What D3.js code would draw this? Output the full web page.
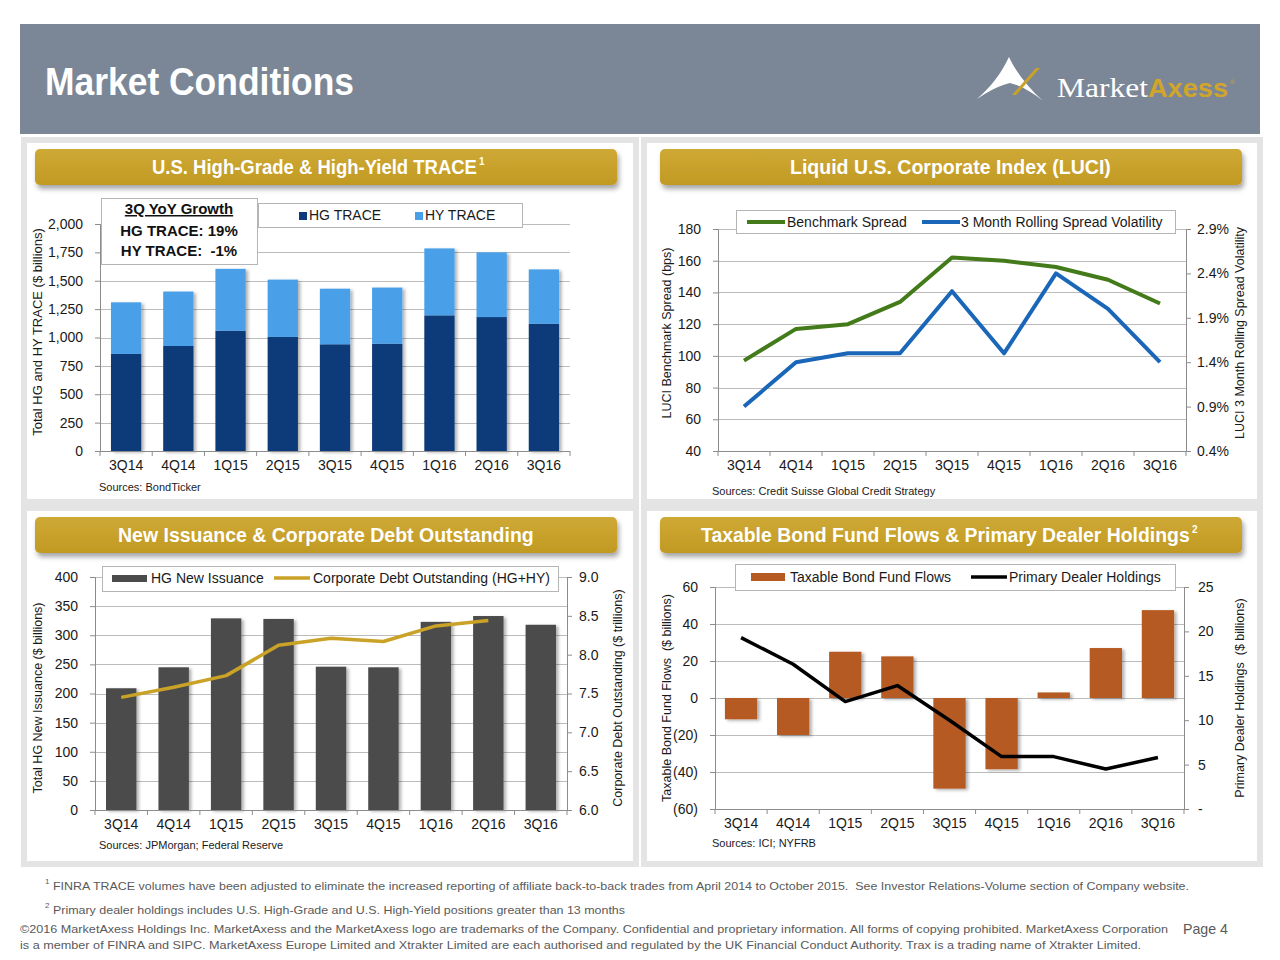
<!DOCTYPE html>
<html>
<head>
<meta charset="utf-8">
<script src="https://cdn.jsdelivr.net/npm/d3@7"></script>
<style>
  body { margin: 0; background: #fff; }
  svg { display: block; font-family: "Liberation Sans", Arial, sans-serif; }
  .tick text { font-size: 14px; fill: #1a1a1a; }
</style>
</head>
<body>
<svg id="page" width="1280" height="960"></svg>
<script>
// --> DATA
var quarters = ["3Q14", "4Q14", "1Q15", "2Q15", "3Q15", "4Q15", "1Q16", "2Q16", "3Q16"];

// panel 1: TRACE volumes ($ billions)
var hgTrace = [855, 925, 1060, 1005, 940, 945, 1195, 1180, 1120];
var hyTrace = [455, 480, 545, 505, 490, 495, 590, 570, 480];
var traceTicks = [0, 250, 500, 750, 1000, 1250, 1500, 1750, 2000];

// panel 2: LUCI
var benchmarkSpread = [97, 117, 120, 134, 162, 160, 156, 148, 133];
var spreadVolatility = [0.9, 1.4, 1.5, 1.5, 2.2, 1.5, 2.4, 2.0, 1.4];
var spreadTicks = [40, 60, 80, 100, 120, 140, 160, 180];
var volTicks = [0.4, 0.9, 1.4, 1.9, 2.4, 2.9];

// panel 3: issuance and debt outstanding
var hgIssuance = [209, 245, 329, 328, 246, 245, 323, 333, 318];
var debtOutstanding = [7.45, 7.58, 7.73, 8.12, 8.21, 8.17, 8.37, 8.44];
var issuanceTicks = [0, 50, 100, 150, 200, 250, 300, 350, 400];
var debtTicks = [6.0, 6.5, 7.0, 7.5, 8.0, 8.5, 9.0];

// panel 4: fund flows and dealer holdings
var fundFlows = [-11.5, -20, 25, 22.5, -49, -38.5, 3, 27, 47.5];
var dealerHoldings = [19.3, 16.3, 12.1, 13.9, 10.0, 5.9, 5.9, 4.5, 5.8];
var flowTicks = [-60, -40, -20, 0, 20, 40, 60];
var holdingTicks = [0, 5, 10, 15, 20, 25];

var svg = d3.select("#page");

// shadows
var defs = svg.append("defs");
defs.append("filter").attr("id", "barShadow").attr("x", "-20%").attr("y", "-20%").attr("width", "150%").attr("height", "150%")
    .append("feDropShadow").attr("dx", 2.5).attr("dy", 1.5).attr("stdDeviation", 1.5)
    .attr("flood-color", "#000").attr("flood-opacity", 0.3);
defs.append("filter").attr("id", "headShadow").attr("x", "-5%").attr("y", "-30%").attr("width", "110%").attr("height", "170%")
    .append("feDropShadow").attr("dx", 2).attr("dy", 4).attr("stdDeviation", 2.5)
    .attr("flood-color", "#000").attr("flood-opacity", 0.35);
var goldGrad = defs.append("linearGradient").attr("id", "gold").attr("x1", 0).attr("y1", 0).attr("x2", 0).attr("y2", 1);
goldGrad.append("stop").attr("offset", "0%").attr("stop-color", "#cfa935");
goldGrad.append("stop").attr("offset", "100%").attr("stop-color", "#c09a22");

// squeeze a text horizontally to a target width (the slide font is narrow)
function squeeze(g, text, width) {
    var natural = text.node().getComputedTextLength();
    text.attr("transform", "scale(" + (width / natural) + ",1)");
}

// --> PAGE HEADER
svg.append("rect").attr("x", 20).attr("y", 24).attr("width", 1240).attr("height", 110).attr("fill", "#7b8797");
svg.append("text").attr("x", 45).attr("y", 95)
    .attr("font-size", 39).attr("font-weight", "bold").attr("fill", "#fff")
    .attr("textLength", 309).attr("lengthAdjust", "spacingAndGlyphs")
    .text("Market Conditions");

// logo
var logo = svg.append("g");
logo.append("path")
    .attr("d", "M977,99 C992,86 1002,72 1009,57 C1016,72 1027,86 1043,101 C1033,93 1022,86 1010,83 C998,86 987,92 977,99 Z")
    .attr("fill", "#fff");
logo.append("path")
    .attr("d", "M1012,95 L1036,68 L1040,68 L1016,95 Z")
    .attr("fill", "#c9a227");
logo.append("text").attr("x", 1057).attr("y", 97)
    .attr("font-family", "'Liberation Serif', 'DejaVu Serif', serif").attr("font-size", 27).attr("fill", "#fff")
    .attr("textLength", 91).attr("lengthAdjust", "spacingAndGlyphs")
    .text("Market");
logo.append("text").attr("x", 1148).attr("y", 97)
    .attr("font-size", 26).attr("font-weight", "bold").attr("fill", "#d0a52a")
    .attr("textLength", 80).attr("lengthAdjust", "spacingAndGlyphs")
    .text("Axess");
logo.append("text").attr("x", 1230).attr("y", 84).attr("font-size", 6).attr("fill", "#d0a52a").text("®");

// --> PANEL FRAMES
// x, y, w, h: frame; hx, hw: gold header bar; tx, tw: title start and width
function panel(x, y, w, h, hx, hw, title, tx, tw, sup) {
    svg.append("rect").attr("x", x).attr("y", y).attr("width", w).attr("height", h)
        .attr("fill", "#fff").attr("stroke", "#e4e4e4").attr("stroke-width", 6);
    svg.append("rect").attr("x", hx).attr("y", y + 9).attr("width", hw).attr("height", 36).attr("rx", 5)
        .attr("fill", "url(#gold)").attr("filter", "url(#headShadow)");
    var g = svg.append("g").attr("transform", "translate(" + tx + "," + (y + 34) + ")");
    var t = g.append("text")
        .attr("font-size", 19.5).attr("font-weight", "bold").attr("fill", "#fff")
        .text(title);
    squeeze(g, t, tw);
    if (sup) {
        svg.append("text").attr("x", tx + tw + 2).attr("y", y + 25)
            .attr("font-size", 10).attr("font-weight", "bold").attr("fill", "#fff").text(sup);
    }
}
panel(24, 140, 612, 362, 35, 582, "U.S. High-Grade & High-Yield TRACE", 152, 325, "1");
panel(644, 140, 616, 362, 660, 582, "Liquid U.S. Corporate Index (LUCI)", 790, 321, null);
panel(24, 508, 612, 356, 35, 582, "New Issuance & Corporate Debt Outstanding", 118, 416, null);
panel(644, 508, 616, 356, 660, 582, "Taxable Bond Fund Flows & Primary Dealer Holdings", 701, 489, "2");

// --> SHARED AXIS HELPERS
function styleAxis(g) {
    g.selectAll(".domain").attr("stroke", "#8c8c8c");
    g.selectAll(".tick line").attr("stroke", "#8c8c8c");
    g.selectAll(".tick text").attr("font-family", "'Liberation Sans', Arial, sans-serif");
}

function grid(x0, x1, y, ticks) {
    svg.append("g").selectAll("line").data(ticks).enter().append("line")
        .attr("x1", x0).attr("x2", x1)
        .attr("y1", function(d) { return Math.round(y(d)) + 0.5; })
        .attr("y2", function(d) { return Math.round(y(d)) + 0.5; })
        .attr("stroke", "#bcbcbc").attr("stroke-width", 1);
}

function categoryAxis(x, y0) {
    var g = svg.append("g").attr("transform", "translate(0," + y0 + ")")
        .call(d3.axisBottom(x).tickSize(0).tickPadding(9));
    g.select(".domain").remove();
    g.selectAll(".tick text").attr("font-family", "'Liberation Sans', Arial, sans-serif");
    // tick marks between categories
    var r = x.range();
    var edges = d3.range(quarters.length + 1).map(function(i) { return r[0] + i * x.step(); });
    svg.append("line").attr("x1", r[0]).attr("x2", r[1]).attr("y1", y0 + 0.5).attr("y2", y0 + 0.5).attr("stroke", "#8c8c8c");
    svg.append("g").selectAll("line").data(edges).enter().append("line")
        .attr("x1", function(d) { return d; }).attr("x2", function(d) { return d; })
        .attr("y1", y0).attr("y2", y0 + 5).attr("stroke", "#8c8c8c");
}

function axisTitle(x, y, label, size) {
    svg.append("text").attr("transform", "translate(" + x + "," + y + ") rotate(-90)")
        .attr("text-anchor", "middle").attr("font-size", size || 12).attr("fill", "#1a1a1a")
        .attr("xml:space", "preserve")
        .text(label);
}

function sources(x, y, label) {
    svg.append("text").attr("x", x).attr("y", y).attr("font-size", 11).attr("fill", "#1a1a1a").text(label);
}

function legendBox(x, y, w, h) {
    svg.append("rect").attr("x", x + 0.5).attr("y", y + 0.5).attr("width", w).attr("height", h)
        .attr("fill", "#fff").attr("stroke", "#b5b5b5");
}

function legendText(x, y, label) {
    svg.append("text").attr("x", x).attr("y", y).attr("font-size", 14).attr("fill", "#1a1a1a").text(label);
}

// --> PANEL 1: stacked TRACE bars
var x1 = d3.scaleBand().domain(quarters).range([100, 570]).paddingInner(0.42).paddingOuter(0.21);
var y1 = d3.scaleLinear().domain([0, 2000]).range([451, 224]);

grid(100, 570, y1, traceTicks.slice(1));

var stack1 = d3.stack().keys(["hg", "hy"])(quarters.map(function(q, i) {
    return { q: q, hg: hgTrace[i], hy: hyTrace[i] };
}));
var traceColors = { hg: "#0b3b7a", hy: "#4aa0e8" };

svg.append("g").attr("filter", "url(#barShadow)")
    .selectAll("g").data(stack1).enter().append("g")
    .attr("fill", function(d) { return traceColors[d.key]; })
    .selectAll("rect").data(function(d) { return d; }).enter().append("rect")
    .attr("x", function(d) { return x1(d.data.q); })
    .attr("width", x1.bandwidth())
    .attr("y", function(d) { return y1(d[1]); })
    .attr("height", function(d) { return y1(d[0]) - y1(d[1]); });

svg.append("g").attr("transform", "translate(100,0)")
    .call(d3.axisLeft(y1).tickValues(traceTicks).tickSize(5).tickPadding(12).tickFormat(d3.format(",")))
    .call(styleAxis);
categoryAxis(x1, 451);
axisTitle(42, 332, "Total HG and HY TRACE ($ billions)", 13);
sources(99, 491, "Sources: BondTicker");

// growth box
legendBox(101, 198, 156, 66);
svg.append("text").attr("x", 179).attr("y", 214).attr("text-anchor", "middle")
    .attr("font-size", 15).attr("font-weight", "bold").attr("text-decoration", "underline").attr("fill", "#111")
    .text("3Q YoY Growth");
svg.append("text").attr("x", 179).attr("y", 236).attr("text-anchor", "middle")
    .attr("font-size", 15).attr("font-weight", "bold").attr("fill", "#111").text("HG TRACE: 19%");
svg.append("text").attr("x", 179).attr("y", 256).attr("text-anchor", "middle")
    .attr("font-size", 15).attr("font-weight", "bold").attr("fill", "#111").attr("xml:space", "preserve")
    .text("HY TRACE:  -1%");

// legend
legendBox(258, 203, 264, 24);
svg.append("rect").attr("x", 299).attr("y", 212).attr("width", 8).attr("height", 8).attr("fill", traceColors.hg);
legendText(309, 220, "HG TRACE");
svg.append("rect").attr("x", 415).attr("y", 212).attr("width", 8).attr("height", 8).attr("fill", traceColors.hy);
legendText(425, 220, "HY TRACE");

// --> PANEL 2: LUCI lines
var x2 = d3.scaleBand().domain(quarters).range([718, 1186]);
var y2 = d3.scaleLinear().domain([40, 180]).range([451, 229]);
var y2r = d3.scaleLinear().domain([0.4, 2.9]).range([451, 229]);

grid(718, 1186, y2, spreadTicks.slice(1));

svg.append("path").datum(benchmarkSpread)
    .attr("fill", "none").attr("stroke", "#437a1a").attr("stroke-width", 4).attr("stroke-linejoin", "round")
    .attr("d", d3.line()
        .x(function(d, i) { return x2(quarters[i]) + x2.bandwidth() / 2; })
        .y(function(d) { return y2(d); }));
svg.append("path").datum(spreadVolatility)
    .attr("fill", "none").attr("stroke", "#1a66b8").attr("stroke-width", 4).attr("stroke-linejoin", "round")
    .attr("d", d3.line()
        .x(function(d, i) { return x2(quarters[i]) + x2.bandwidth() / 2; })
        .y(function(d) { return y2r(d); }));

svg.append("g").attr("transform", "translate(718,0)")
    .call(d3.axisLeft(y2).tickValues(spreadTicks).tickSize(5).tickPadding(12))
    .call(styleAxis);
svg.append("g").attr("transform", "translate(1186,0)")
    .call(d3.axisRight(y2r).tickValues(volTicks).tickSize(5).tickPadding(6)
        .tickFormat(function(d) { return d3.format(".1f")(d) + "%"; }))
    .call(styleAxis);
categoryAxis(x2, 451);
axisTitle(671, 333, "LUCI Benchmark Spread (bps)", 12.5);
axisTitle(1244, 333, "LUCI 3 Month Rolling Spread Volatility", 12.5);
sources(712, 495, "Sources: Credit Suisse Global Credit Strategy");

legendBox(736, 210, 439, 23);
svg.append("line").attr("x1", 747).attr("x2", 785).attr("y1", 222).attr("y2", 222).attr("stroke", "#437a1a").attr("stroke-width", 4);
legendText(787, 227, "Benchmark Spread");
svg.append("line").attr("x1", 922).attr("x2", 960).attr("y1", 222).attr("y2", 222).attr("stroke", "#1a66b8").attr("stroke-width", 4);
legendText(961, 227, "3 Month Rolling Spread Volatility");

// --> PANEL 3: new issuance bars + debt outstanding line
var x3 = d3.scaleBand().domain(quarters).range([95, 567]).paddingInner(0.42).paddingOuter(0.21);
var y3 = d3.scaleLinear().domain([0, 400]).range([810, 577]);
var y3r = d3.scaleLinear().domain([6.0, 9.0]).range([810, 577]);

grid(95, 567, y3, issuanceTicks.slice(1));

svg.append("g").attr("filter", "url(#barShadow)")
    .selectAll("rect").data(hgIssuance).enter().append("rect")
    .attr("x", function(d, i) { return x3(quarters[i]); })
    .attr("width", x3.bandwidth())
    .attr("y", function(d) { return y3(d); })
    .attr("height", function(d) { return y3(0) - y3(d); })
    .attr("fill", "#4b4b4b");

svg.append("path").datum(debtOutstanding)
    .attr("fill", "none").attr("stroke", "#c9a227").attr("stroke-width", 3.5).attr("stroke-linejoin", "round")
    .attr("d", d3.line()
        .x(function(d, i) { return x3(quarters[i]) + x3.bandwidth() / 2; })
        .y(function(d) { return y3r(d); }));

svg.append("g").attr("transform", "translate(95,0)")
    .call(d3.axisLeft(y3).tickValues(issuanceTicks).tickSize(5).tickPadding(12))
    .call(styleAxis);
svg.append("g").attr("transform", "translate(567,0)")
    .call(d3.axisRight(y3r).tickValues(debtTicks).tickSize(5).tickPadding(7).tickFormat(d3.format(".1f")))
    .call(styleAxis);
categoryAxis(x3, 810);
axisTitle(42, 698, "Total HG New Issuance ($ billions)", 12.5);
axisTitle(622, 698, "Corporate Debt Outstanding ($ trillions)", 12.5);
sources(99, 849, "Sources: JPMorgan; Federal Reserve");

legendBox(102, 566, 456, 25);
svg.append("rect").attr("x", 112).attr("y", 575).attr("width", 35).attr("height", 7).attr("fill", "#4b4b4b");
legendText(151, 583, "HG New Issuance");
svg.append("line").attr("x1", 274).attr("x2", 310).attr("y1", 578).attr("y2", 578).attr("stroke", "#c9a227").attr("stroke-width", 3.5);
legendText(313, 583, "Corporate Debt Outstanding (HG+HY)");

// --> PANEL 4: fund flows bars + dealer holdings line
var x4 = d3.scaleBand().domain(quarters).range([715, 1184]).paddingInner(0.38).paddingOuter(0.19);
var y4 = d3.scaleLinear().domain([-60, 60]).range([809, 587]);
var y4r = d3.scaleLinear().domain([0, 25]).range([809, 587]);

grid(715, 1184, y4, flowTicks.slice(1));

svg.append("g").attr("filter", "url(#barShadow)")
    .selectAll("rect").data(fundFlows).enter().append("rect")
    .attr("x", function(d, i) { return x4(quarters[i]); })
    .attr("width", x4.bandwidth())
    .attr("y", function(d) { return y4(Math.max(0, d)); })
    .attr("height", function(d) { return Math.abs(y4(d) - y4(0)); })
    .attr("fill", "#b55a22");

svg.append("path").datum(dealerHoldings)
    .attr("fill", "none").attr("stroke", "#000").attr("stroke-width", 3.5).attr("stroke-linejoin", "round")
    .attr("d", d3.line()
        .x(function(d, i) { return x4(quarters[i]) + x4.bandwidth() / 2; })
        .y(function(d) { return y4r(d); }));

svg.append("g").attr("transform", "translate(715,0)")
    .call(d3.axisLeft(y4).tickValues(flowTicks).tickSize(5).tickPadding(12)
        .tickFormat(function(d) { return d < 0 ? "(" + Math.abs(d) + ")" : d; }))
    .call(styleAxis);
svg.append("g").attr("transform", "translate(1184,0)")
    .call(d3.axisRight(y4r).tickValues(holdingTicks).tickSize(5).tickPadding(9)
        .tickFormat(function(d) { return d === 0 ? "-" : d; }))
    .call(styleAxis);
categoryAxis(x4, 809);
axisTitle(671, 698, "Taxable Bond Fund Flows  ($ billions)", 12.5);
axisTitle(1244, 698, "Primary Dealer Holdings  ($ billions)", 12.5);
sources(712, 847, "Sources: ICI; NYFRB");

legendBox(735, 564, 440, 26);
svg.append("rect").attr("x", 751).attr("y", 573).attr("width", 34).attr("height", 8).attr("fill", "#b55a22");
legendText(790, 582, "Taxable Bond Fund Flows");
svg.append("line").attr("x1", 971).attr("x2", 1007).attr("y1", 577).attr("y2", 577).attr("stroke", "#000").attr("stroke-width", 3.5);
legendText(1009, 582, "Primary Dealer Holdings");

// --> FOOTER
function footLine(x, y, label, width, color) {
    svg.append("text").attr("x", x).attr("y", y).attr("font-size", 11.5).attr("fill", color || "#5a5a5a")
        .attr("textLength", width).attr("lengthAdjust", "spacingAndGlyphs").attr("xml:space", "preserve")
        .text(label);
}
svg.append("text").attr("x", 45).attr("y", 884).attr("font-size", 8).attr("fill", "#5a5a5a").text("1");
footLine(53, 890, "FINRA TRACE volumes have been adjusted to eliminate the increased reporting of affiliate back-to-back trades from April 2014 to October 2015.  See Investor Relations-Volume section of Company website.", 1136);
svg.append("text").attr("x", 45).attr("y", 908).attr("font-size", 8).attr("fill", "#5a5a5a").text("2");
footLine(53, 914, "Primary dealer holdings includes U.S. High-Grade and U.S. High-Yield positions greater than 13 months", 572);
footLine(20, 933, "\u00a92016 MarketAxess Holdings Inc. MarketAxess and the MarketAxess logo are trademarks of the Company. Confidential and proprietary information. All forms of copying prohibited. MarketAxess Corporation", 1148);
footLine(20, 949, "is a member of FINRA and SIPC. MarketAxess Europe Limited and Xtrakter Limited are each authorised and regulated by the UK Financial Conduct Authority. Trax is a trading name of Xtrakter Limited.", 1121);
svg.append("text").attr("x", 1183).attr("y", 934).attr("font-size", 14.5).attr("fill", "#5a5a5a")
    .attr("textLength", 45).attr("lengthAdjust", "spacingAndGlyphs").text("Page 4");
</script>
</body>
</html>
